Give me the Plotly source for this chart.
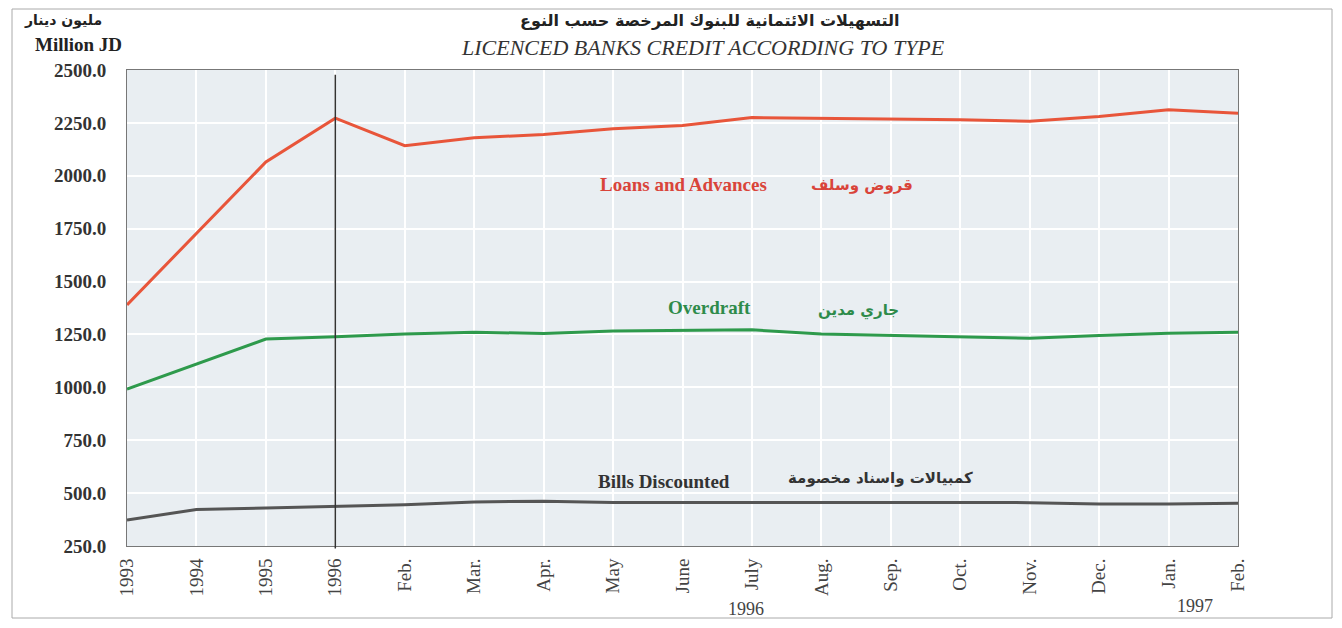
import plotly.graph_objects as go

periods = ["1993", "1994", "1995", "1996", "Feb.", "Mar.", "Apr.", "May", "June",
           "July", "Aug.", "Sep.", "Oct.", "Nov.", "Dec.", "Jan.", "Feb."]
loans_advances = [1390, 1730, 2065, 2272, 2142, 2180, 2195, 2222, 2238,
                  2275, 2272, 2270, 2265, 2258, 2280, 2312, 2295]
overdraft = [992, 1110, 1228, 1239, 1252, 1260, 1255, 1266, 1270,
             1272, 1252, 1245, 1236, 1232, 1245, 1256, 1260]
bills_discounted = [373, 422, 430, 438, 445, 458, 462, 456, 456,
                    455, 458, 458, 457, 455, 448, 448, 452]
y_ticks = [250, 500, 750, 1000, 1250, 1500, 1750, 2000, 2250, 2500]

xs = list(range(len(periods)))
SERIF = "Liberation Serif, Times New Roman, DejaVu Serif, DejaVu Sans"
ARAB = "DejaVu Sans, Noto Sans, sans-serif"

fig = go.Figure()
fig.add_trace(go.Scatter(x=xs, y=loans_advances, mode="lines",
                         line=dict(color="#e8553a", width=3), name="Loans and Advances"))
fig.add_trace(go.Scatter(x=xs, y=overdraft, mode="lines",
                         line=dict(color="#2e9a4c", width=3), name="Overdraft"))
fig.add_trace(go.Scatter(x=xs, y=bills_discounted, mode="lines",
                         line=dict(color="#555555", width=3), name="Bills Discounted"))

OFF = 8  # default page body margin
W, H = 1342 - 2 * OFF, 628 - 2 * OFF
# plot area in page pixels: x 127..1238, y 70..546
L = 127 - OFF
T = 70 - OFF
R = W - (1238 - OFF)
B = H - (546 - OFF)
pw, ph = W - L - R, H - T - B

def px(xp):
    return (xp - OFF - L) / pw

def py(yp):
    return (H - B - (yp - OFF)) / ph

fig.update_layout(
    width=W, height=H,
    margin=dict(l=L, r=R, t=T, b=B),
    paper_bgcolor="white",
    plot_bgcolor="#e9eef2",
    showlegend=False,
    xaxis=dict(range=[0, len(periods) - 1], tickmode="array", tickvals=xs, ticktext=periods,
               tickangle=-90, showgrid=True, gridcolor="white", gridwidth=1.5,
               showline=True, linecolor="#777777", linewidth=1, mirror=True,
               zeroline=False, ticks="", ticklabelstandoff=4,
               tickfont=dict(family=SERIF, size=19, color="#444444")),
    yaxis=dict(range=[250, 2500], tickmode="array", tickvals=y_ticks,
               ticktext=[f"<b>{v:.1f}</b>" for v in y_ticks],
               showgrid=True, gridcolor="white", gridwidth=1.5,
               showline=True, linecolor="#777777", linewidth=1, mirror=True,
               zeroline=False, ticks="", ticklabelstandoff=16,
               tickfont=dict(family=SERIF, size=19, color="#333333")),
)

# vertical separator at 1996
fig.add_shape(type="line", xref="x", yref="paper", x0=3, x1=3, y0=-0.005, y1=0.99,
              line=dict(color="#333333", width=1.5))

# outer frame (kept inside the figure)
fig.add_shape(type="rect", xref="paper", yref="paper",
              x0=px(12), x1=px(1332), y0=py(618), y1=py(9),
              line=dict(color="#aaaaaa", width=1), fillcolor="rgba(0,0,0,0)", layer="below")

def ann(text, xp, yp, size, color, family=SERIF, bold=True, italic=False, xanchor="center"):
    t = text
    if bold:
        t = f"<b>{t}</b>"
    if italic:
        t = f"<i>{t}</i>"
    fig.add_annotation(text=t, xref="paper", yref="paper", x=px(xp), y=py(yp),
                       xanchor=xanchor, yanchor="middle", showarrow=False,
                       font=dict(family=family, size=size, color=color))

# titles
ann("التسهيلات الائتمانية للبنوك المرخصة حسب النوع", 710, 21, 16, "#222222", family=ARAB)
ann("LICENCED BANKS CREDIT ACCORDING TO TYPE", 703, 48, 22, "#333333", bold=False, italic=True)

# y-axis unit
ann("مليون دينار", 63, 21, 14, "#222222", family=ARAB)
ann("Million JD", 78, 45, 19, "#222222")

# series labels
ann("Loans and Advances", 683, 184, 19, "#d9443a")
ann("قروض وسلف", 862, 185, 15, "#d9443a", family=ARAB)
ann("Overdraft", 709, 307, 19, "#2e8b4a")
ann("جاري مدين", 858, 310, 15, "#2e8b4a", family=ARAB)
ann("Bills Discounted", 664, 481, 19, "#333333")
ann("كمبيالات واسناد مخصومة", 880, 478, 15, "#333333", family=ARAB)

# year labels under months
ann("1996", 746, 609, 18, "#444444", bold=False)
ann("1997", 1195, 606, 18, "#444444", bold=False)

fig.write_html("out.html")
